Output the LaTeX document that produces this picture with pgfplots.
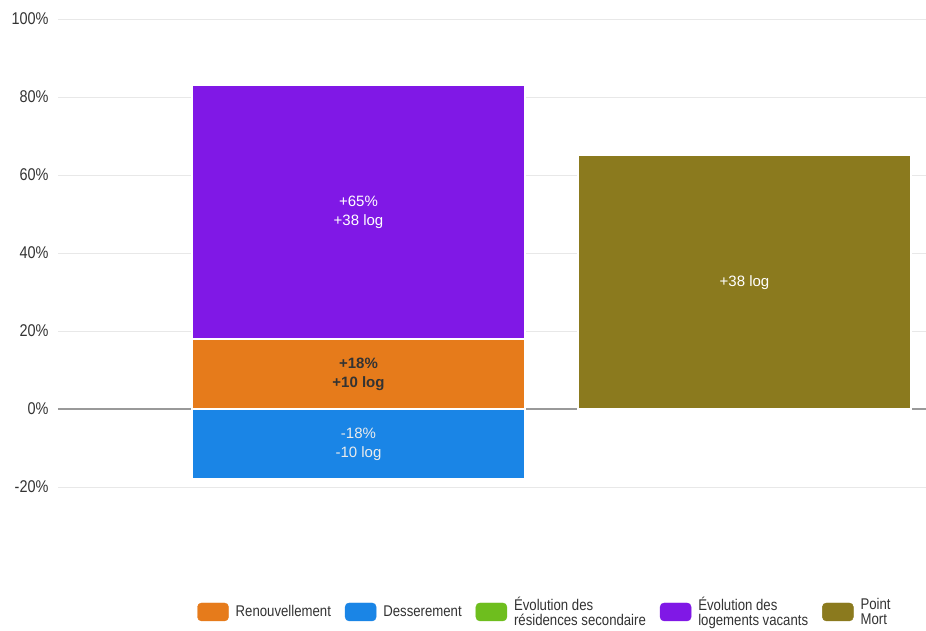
\documentclass[border=0pt]{standalone}
\usepackage{pgfplots}
\pgfplotsset{compat=1.18}
\usepackage{fontspec}
\setmainfont{Liberation Sans}
\newfontfamily\condfont[FakeStretch=0.85]{Liberation Sans}
\definecolor{cOrange}{HTML}{E67B1B}
\definecolor{cBlue}{HTML}{1A85E6}
\definecolor{cGreen}{HTML}{6EBE1E}
\definecolor{cPurple}{HTML}{8018E6}
\definecolor{cOlive}{HTML}{8B7A1E}
\definecolor{cText}{HTML}{333333}
\definecolor{cGrid}{HTML}{E8E8E8}
\begin{document}
\begin{tikzpicture}
\path[use as bounding box] (-58pt,-143pt) rectangle (868pt,487pt);
\begin{axis}[
  at={(0pt,0pt)}, anchor=south west,
  scale only axis,
  width=868pt, height=468pt,
  xmin=-0.7785, xmax=1.4702,
  ymin=-20, ymax=100,
  axis line style={draw=none},
  xtick=\empty,
  ytick={-20,20,40,60,80,100},
  yticklabels={-20\%,20\%,40\%,60\%,80\%,100\%},
  extra y ticks={0},
  extra y tick labels={0\%},
  extra y tick style={grid style={draw=gray!80, line width=1.5pt}},
  ymajorgrids,
  grid style={draw=cGrid, line width=0.8pt},
  major tick length=0pt,
  tick style={draw=none},
  yticklabel style={font=\condfont\fontsize{17}{19}\selectfont, text=cText, anchor=east, xshift=-6pt},
  /pgf/number format/assume math mode=true,
  ybar, bar shift=0pt, bar width=0.8627,
  legend columns=5,
  legend cell align=left,
  legend style={at={(0.5616,-0.267)}, anchor=center, draw=none,
    font=\condfont\fontsize{15.5}{14.5}\selectfont, text=cText,
    nodes={align=left, inner xsep=3pt},
    /tikz/every odd column/.append style={column sep=4pt},
    /tikz/every even column/.append style={column sep=11pt}},
]
% legend entries
\addlegendimage{legend image code/.code={\fill[cOrange, rounded corners=4pt] (0pt,-9pt) rectangle (31pt,9pt);}}
\addlegendentry{Renouvellement}
\addlegendimage{legend image code/.code={\fill[cBlue, rounded corners=4pt] (0pt,-9pt) rectangle (31pt,9pt);}}
\addlegendentry{Desserement}
\addlegendimage{legend image code/.code={\fill[cGreen, rounded corners=4pt] (0pt,-9pt) rectangle (31pt,9pt);}}
\addlegendentry{Évolution des\\résidences secondaire}
\addlegendimage{legend image code/.code={\fill[cPurple, rounded corners=4pt] (0pt,-9pt) rectangle (31pt,9pt);}}
\addlegendentry{Évolution des\\logements vacants}
\addlegendimage{legend image code/.code={\fill[cOlive, rounded corners=4pt] (0pt,-9pt) rectangle (31pt,9pt);}}
\addlegendentry{Point\\Mort}
% bars
% Évolution des logements vacants: from 18 to 83 (drawn 0..83, covered by Renouvellement below 18)
\addplot[fill=cPurple, draw=white, line width=1.5pt, forget plot] coordinates {(0,83)};
\addplot[fill=cOrange, draw=white, line width=1.5pt, forget plot] coordinates {(0,18)};
\addplot[fill=cBlue, draw=white, line width=1.5pt, forget plot] coordinates {(0,-18)};
\addplot[fill=cOlive, draw=white, line width=1.5pt, forget plot] coordinates {(1,65)};
% labels
\node[align=center, text=white, font=\fontsize{15}{19}\selectfont] at (axis cs:0,50.5) {+65\%\\+38 log};
\node[align=center, text=cText, font=\bfseries\fontsize{15}{19}\selectfont] at (axis cs:0,9) {+18\%\\+10 log};
\node[align=center, text=white!92!black, font=\fontsize{15}{19}\selectfont] at (axis cs:0,-9) {-18\%\\-10 log};
\node[align=center, text=white, font=\fontsize{15}{19}\selectfont] at (axis cs:1,32.5) {+38 log};
\end{axis}
\end{tikzpicture}
\end{document}
